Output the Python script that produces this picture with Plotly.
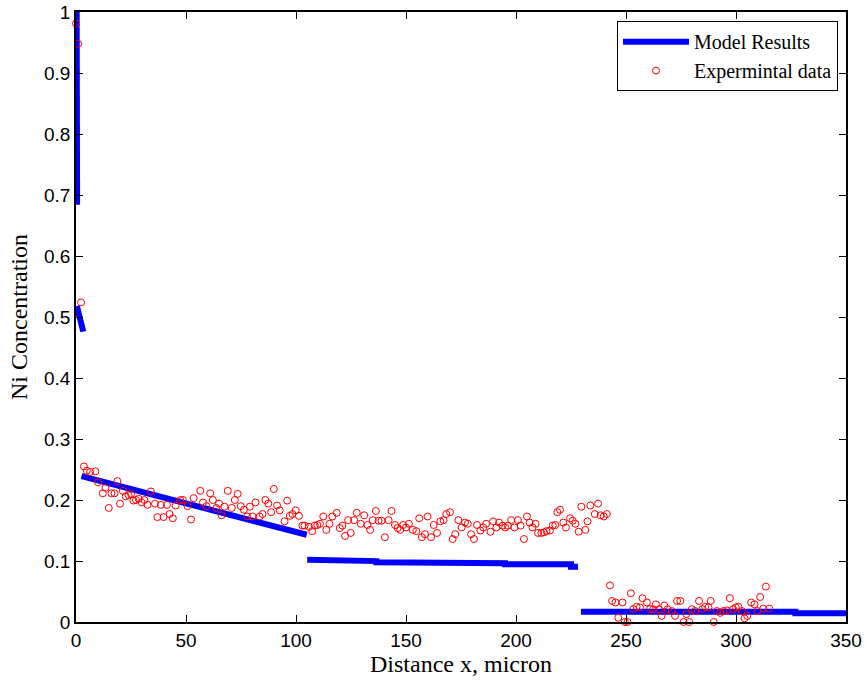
import plotly.graph_objects as go

# ---- model curve, one piece per layer (x in micron, Ni concentration) ----
seg1_x = [0.3, 0.5]
seg1_y = [1.0, 0.684]
seg2_x = [0.4, 3.3]
seg2_y = [0.518, 0.476]
seg3_x = [2.5, 50.0, 104.9]
seg3_y = [0.239, 0.195, 0.143]
seg4_x = [105.1, 107.0, 107.0, 136.5, 136.5, 165.0, 165.0, 195.0, 195.0, 225.0, 225.0, 228.2]
seg4_y = [0.102, 0.102, 0.0998, 0.0998, 0.098, 0.098, 0.0962, 0.0962, 0.0946, 0.0946, 0.0907, 0.0907]
seg5_x = [229.5, 327.0, 327.0, 350.0]
seg5_y = [0.017, 0.017, 0.0145, 0.0145]

# ---- measured profile ----
x_exp = [0.0, 1.0, 2.3, 3.6, 4.9, 6.4, 8.8, 10.0, 12.2, 13.4, 14.9, 16.1, 17.5, 18.8,
         20.0, 21.3, 22.6, 23.9, 25.0, 26.1, 27.3, 28.5, 29.8, 31.1, 32.5, 34.0, 35.9,
         37.0, 38.6, 39.8, 41.3, 42.5, 44.0, 45.3, 47.4, 48.6, 50.7, 52.3, 53.5, 56.5,
         57.7, 59.3, 61.0, 62.2, 63.8, 65.0, 66.2, 67.5, 69.0, 70.8, 72.2, 73.5, 74.9,
         76.3, 77.8, 79.0, 80.2, 81.6, 83.5, 84.8, 86.1, 87.4, 88.7, 89.9, 91.4, 92.6,
         94.8, 96.0, 97.2, 98.4, 99.9, 101.3, 102.9, 103.9, 105.9, 107.4, 108.5, 109.7,
         110.9, 112.4, 113.8, 115.2, 116.5, 118.5, 119.9, 121.1, 122.3, 123.7, 124.9,
         126.4, 127.6, 129.4, 131.0, 132.5, 133.7, 134.9, 136.3, 137.5, 138.9, 140.4,
         142.1, 143.4, 145.0, 146.2, 147.4, 148.7, 150.0, 151.3, 153.1, 154.7, 156.0,
         157.2, 158.6, 159.8, 161.4, 162.6, 164.1, 165.6, 167.1, 168.3, 170.0, 171.2,
         172.4, 173.8, 175.3, 176.8, 178.1, 179.6, 180.9, 182.3, 183.8, 185.1, 186.4,
         188.4, 189.6, 191.1, 192.3, 193.9, 195.1, 196.3, 197.8, 199.3, 200.9, 202.1,
         203.6, 205.0, 206.2, 207.5, 208.9, 210.0, 211.5, 212.7, 213.9, 215.4, 216.7,
         217.9, 218.8, 220.0, 221.5, 222.7, 224.6, 225.8, 227.0, 228.5, 229.7, 231.5,
         232.5, 233.8, 235.8, 237.3, 238.5, 239.9, 241.3,
         242.7, 243.7, 245.2, 246.5, 248.4, 249.5, 250.7, 252.2, 253.3, 254.8, 256.3,
         257.5, 259.5, 260.9, 262.4, 263.6, 265.0, 266.2, 267.4, 268.9, 270.8, 272.3,
         273.2, 274.7, 276.2, 277.4, 278.7, 279.9, 281.4, 283.2, 284.7, 286.0, 287.5,
         288.5, 289.9, 291.3, 292.8, 294.3, 295.8, 297.2, 298.7, 299.9, 301.1, 302.7,
         303.9, 305.1, 306.9, 308.4, 309.7, 311.0, 312.4, 313.6, 315.1]
y_exp = [0.981, 0.948, 0.524, 0.255, 0.248, 0.246, 0.247, 0.229, 0.211, 0.220, 0.187, 0.211,
         0.211, 0.231, 0.194, 0.215, 0.206, 0.208, 0.210, 0.199, 0.200, 0.202, 0.196, 0.200,
         0.192, 0.214, 0.194, 0.172, 0.192, 0.172, 0.192, 0.177, 0.170, 0.191, 0.200, 0.200,
         0.190, 0.168, 0.203, 0.215, 0.196, 0.190, 0.211, 0.200, 0.187, 0.194, 0.175, 0.189,
         0.215, 0.187, 0.200, 0.210, 0.190, 0.184, 0.173, 0.189, 0.173, 0.196, 0.173, 0.177,
         0.200, 0.194, 0.180, 0.218, 0.191, 0.183, 0.165, 0.199, 0.174, 0.177, 0.183, 0.174,
         0.158, 0.158, 0.156, 0.149, 0.158, 0.159, 0.161, 0.173, 0.151, 0.161, 0.173, 0.179,
         0.154, 0.158, 0.141, 0.167, 0.146, 0.167, 0.179, 0.161, 0.175, 0.159, 0.151, 0.167,
         0.182, 0.166, 0.166, 0.139, 0.167, 0.182, 0.159, 0.154, 0.151, 0.159, 0.155, 0.161,
         0.151, 0.149, 0.170, 0.139, 0.144, 0.173, 0.139, 0.159, 0.146, 0.165, 0.167, 0.177,
         0.180, 0.136, 0.144, 0.167, 0.155, 0.163, 0.161, 0.144, 0.136, 0.159, 0.150, 0.155,
         0.161, 0.148, 0.165, 0.155, 0.163, 0.158, 0.155, 0.158, 0.167, 0.155, 0.167, 0.158,
         0.136, 0.173, 0.163, 0.155, 0.161, 0.146, 0.146, 0.147, 0.149, 0.150, 0.158, 0.159,
         0.180, 0.184, 0.163, 0.155, 0.170, 0.166, 0.161, 0.148, 0.189, 0.151, 0.165, 0.191,
         0.177, 0.194, 0.175, 0.173, 0.177,
         0.060, 0.0345, 0.032, 0.007, 0.032, 0.0, 0.0, 0.047, 0.021, 0.025, 0.024,
         0.039, 0.032, 0.021, 0.021, 0.029, 0.021, 0.010, 0.027, 0.021, 0.018, 0.010,
         0.0345, 0.0345, 0.0, 0.013, 0.0, 0.021, 0.018, 0.0345, 0.021, 0.025, 0.024,
         0.0345, 0.0, 0.018, 0.015, 0.018, 0.019, 0.039, 0.021, 0.024, 0.025, 0.018,
         0.006, 0.010, 0.032, 0.029, 0.018, 0.041, 0.022, 0.058, 0.022]

x_ticks = [0, 50, 100, 150, 200, 250, 300, 350]
y_ticks = [0, 0.1, 0.2, 0.3, 0.4, 0.5, 0.6, 0.7, 0.8, 0.9, 1]

# join the layer pieces into one broken line so there is a single legend entry
model_x, model_y = [], []
for sx, sy in [(seg1_x, seg1_y), (seg2_x, seg2_y), (seg3_x, seg3_y),
               (seg4_x, seg4_y), (seg5_x, seg5_y)]:
    model_x += sx + [None]
    model_y += sy + [None]

fig = go.Figure()
fig.add_trace(go.Scatter(
    x=model_x, y=model_y, mode="lines", name="Model Results",
    line=dict(color="#0000FF", width=6), connectgaps=False,
))
fig.add_trace(go.Scatter(
    x=x_exp, y=y_exp, mode="markers", name="Expermintal data",
    marker=dict(symbol="circle-open", size=7, color="#FF0000", line=dict(width=1)),
    cliponaxis=False,
))

serif = "Liberation Serif, Times New Roman, serif"
axis_common = dict(
    showline=True, linecolor="black", linewidth=1.5, mirror="ticks",
    ticks="inside", ticklen=7, tickcolor="black", tickwidth=1,
    showgrid=False, zeroline=False, automargin=False,
    tickfont=dict(family="Liberation Sans, Arial", size=19, color="black"),
)

fig.update_xaxes(range=[0, 350], tickvals=x_ticks,
                 title=dict(text="Distance x, micron",
                            font=dict(family=serif, size=24, color="black"),
                            standoff=6),
                 **axis_common)
fig.update_yaxes(range=[0, 1], tickvals=y_ticks,
                 ticktext=[f"{v:g}" for v in y_ticks],
                 title=dict(text="Ni Concentration",
                            font=dict(family=serif, size=24, color="black"),
                            standoff=10),
                 **axis_common)

fig.update_layout(
    width=865, height=683,
    margin=dict(l=76, r=19, t=12, b=61),
    paper_bgcolor="white", plot_bgcolor="white",
    showlegend=True,
    legend=dict(
        x=0.9896, y=0.985, xanchor="right", yanchor="top",
        bgcolor="white", bordercolor="black", borderwidth=1,
        font=dict(family=serif, size=20, color="black"),
        itemwidth=66, tracegroupgap=0,
    ),
)

fig.write_html("out.html")
